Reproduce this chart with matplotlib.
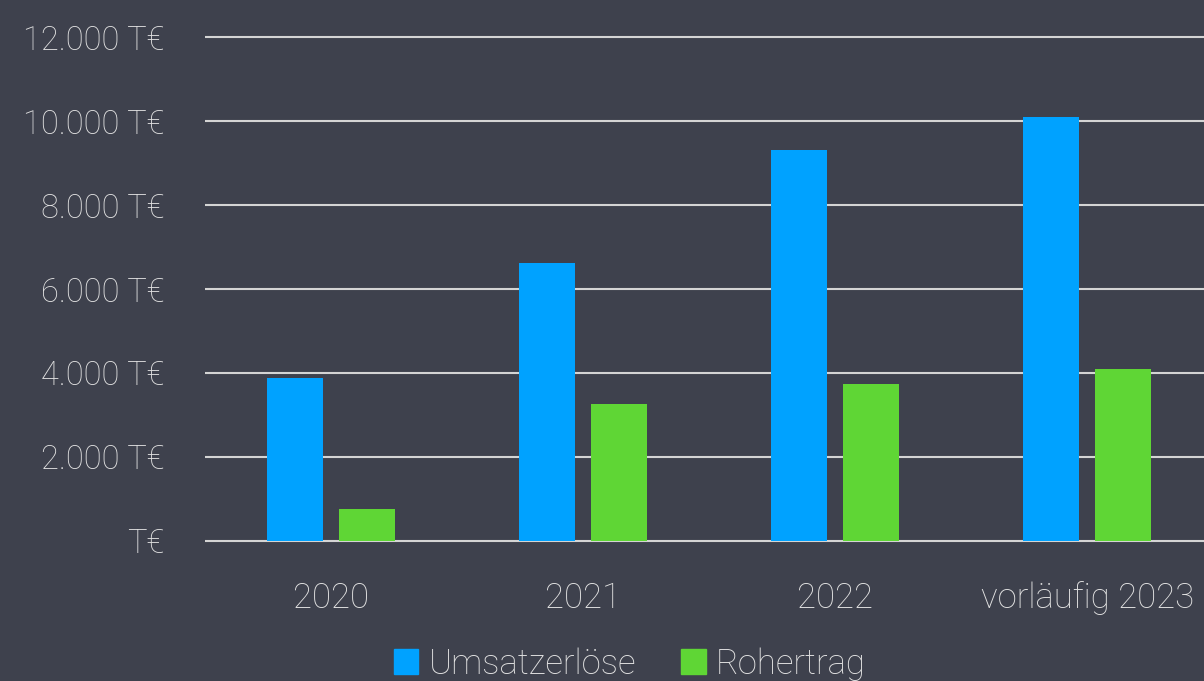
import numpy as np
import matplotlib.pyplot as plt
from matplotlib.patches import Patch

years = ['2020', '2021', '2022', 'vorläufig 2023']
umsatz = [3880, 6620, 9310, 10100]
rohertrag = [755, 3262, 3738, 4095]
yticks = [0, 2000, 4000, 6000, 8000, 10000, 12000]
ylabels = ['T€', '2.000 T€', '4.000 T€', '6.000 T€', '8.000 T€', '10.000 T€', '12.000 T€']

bg = '#3e414d'
blue = '#00a2ff'
green = '#5fd635'
txt = '#e2e2e2'

plt.rcParams['font.family'] = ['Roboto', 'DejaVu Sans']
plt.rcParams['font.weight'] = 'light'

fig = plt.figure(figsize=(12.04, 6.81), dpi=100, facecolor=bg)
ax = fig.add_axes([205 / 1204, 133 / 681, 999 / 1204, 518 / 681], facecolor=bg)

x = np.arange(len(years))
w = 0.222
off = 0.1417
ax.bar(x - off, umsatz, w, color=blue, zorder=3, label='Umsatzerlöse')
ax.bar(x + off, rohertrag, w, color=green, zorder=3, label='Rohertrag')

ax.set_xlim(-0.5, 3.464)
ax.set_ylim(-167, 12167)
ax.set_yticks(yticks)
ax.set_yticklabels(ylabels)
ax.set_xticks(x)
ax.set_xticklabels(years)
ax.grid(axis='y', color='#d4d4d4', linewidth=1.5, zorder=0)
ax.tick_params(axis='y', length=0, pad=29, labelsize=23.5, labelcolor=txt)
ax.tick_params(axis='x', length=0, pad=24, labelsize=25, labelcolor=txt)
for s in ax.spines.values():
    s.set_visible(False)

handles = [Patch(color=blue, label='Umsatzerlöse'), Patch(color=green, label='Rohertrag')]
fig.legend(handles=handles, loc='center', bbox_to_anchor=(630 / 1204, 1 - 664 / 681),
           ncol=2, frameon=False, fontsize=25, labelcolor=txt,
           handlelength=0.7, handleheight=0.7, handletextpad=0.3, columnspacing=1.3,
           borderpad=0)

fig.savefig('out.png', dpi=100, facecolor=bg)
